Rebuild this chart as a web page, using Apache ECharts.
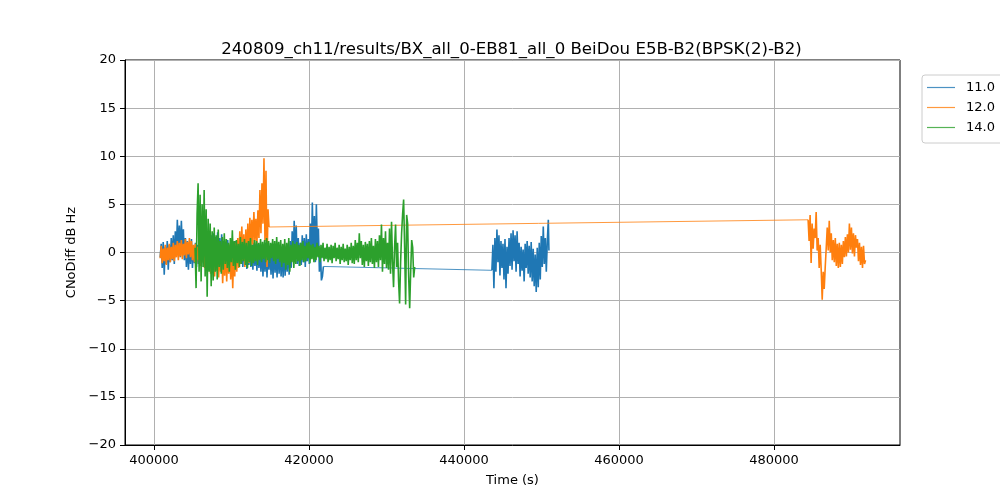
<!DOCTYPE html>
<html>
<head>
<meta charset="utf-8">
<script src="https://cdn.jsdelivr.net/npm/echarts@6/dist/echarts.min.js"></script>
<style>html,body{margin:0;padding:0;background:#fff}#chart{width:1000px;height:500px}</style>
</head>
<body>
<div id="chart"></div>
<script>
const titleText = '240809_ch11/results/BX_all_0-EB81_all_0 BeiDou E5B-B2(BPSK(2)-B2)';
const seriesNames = ['11.0', '12.0', '14.0'];
const xTicks = [400000, 420000, 440000, 460000, 480000];
const yTicks = [-20, -15, -10, -5, 0, 5, 10, 15, 20];

const blueSeg1 = [
[400800,-0.5],[400930,0.9],[401060,-1.6],[401190,1.1],[401320,-2.3],[401450,0.6],[401580,-1.2],[401710,1.2],[401840,-1.8],[401970,0.8],
[402100,-1.0],[402230,1.5],[402360,-0.8],[402490,1.8],[402620,-1.2],[402750,2.2],[402880,-0.3],[403010,3.4],[403140,0.2],[403270,2.8],
[403400,-0.5],[403530,3.3],[403660,0.4],[403790,2.4],[403920,-0.8],[404050,1.5],[404180,-1.5],[404310,1.2],[404440,-1.8],[404570,0.9],
[404700,-1.2],[404830,1.4],[404960,-1.6],[405090,0.7],[405220,-1.1],[405350,1.0],[405480,-1.5],[405610,0.8],[405740,-1.2],[405870,1.1],
[406000,-1.4],[406130,0.6],[406260,-1.0],[406390,1.2],[406520,-1.5],[406650,0.9],[406780,-1.3],[406910,1.0],[407040,-1.1],[407170,0.7],
[407300,-1.4],[407430,1.8],[407560,-0.9],[407690,2.0],[407820,-1.2],[407950,1.6],[408080,-0.7],[408210,2.1],[408340,-1.0],[408470,1.5],
[408600,-1.2],[408730,1.9],[408860,-0.8],[408990,1.2],[409120,-1.4],[409250,1.0],[409380,-1.1],[409510,1.3],[409640,-1.5],[409770,0.8],
[409900,-1.0],[410030,1.1],[410160,-1.3],[410290,0.9],[410420,-1.6],[410550,1.2],[410680,-1.0],[410810,0.7],[410940,-1.4],[411070,1.0],
[411200,-1.2],[411330,1.3],[411460,-1.5],[411590,0.8],[411720,-1.1],[411850,1.0],[411980,-1.7],[412110,0.6],[412240,-1.3],[412370,0.9],
[412500,-1.5],[412630,0.8],[412760,-1.8],[412890,1.0],[413020,-1.4],[413150,0.5],[413280,-1.9],[413410,0.9],[413540,-1.6],[413670,0.4],
[413800,-2.0],[413930,0.7],[414060,-2.5],[414190,0.3],[414320,-2.0],[414450,0.8],[414580,-2.6],[414710,0.2],[414840,-1.8],[414970,0.6],
[415100,-2.3],[415230,0.5],[415360,-2.7],[415490,0.8],[415620,-2.1],[415750,0.4],[415880,-2.6],[416010,0.9],[416140,-2.2],[416270,0.3],
[416400,-2.5],[416530,0.6],[416660,-2.6],[416790,0.8],[416920,-2.4],[417050,0.5],[417180,-2.0],[417310,0.9],[417440,-2.3],[417570,1.2],
[417700,-1.6],[417830,2.2],[417960,-0.8],[418090,3.3],[418220,-0.5],[418350,2.8],[418480,-1.2],[418610,1.5],[418740,-1.4],[418870,1.0],
[419000,-1.3],[419130,1.8],[419260,-1.0],[419390,1.5],[419520,-1.5],[419650,1.9],[419780,-0.9],[419910,1.4],[420040,-1.2],[420170,3.0],
[420300,-0.6],[420430,5.2],[420560,-0.2],[420690,3.8],[420820,-1.0],[420950,5.0],[421080,0.5],[421210,2.5],[421340,-2.0],[421470,0.4],
[421600,-2.9],[421730,-2.5],[421860,-1.45]
];
const blueSeg2 = [
[443600,-1.85],[443730,0.8],[443860,-3.7],[443990,1.5],[444120,-2.0],[444250,2.4],[444380,-1.0],[444510,1.8],[444640,-2.4],[444770,1.2],[444900,-1.6],
[445030,0.9],[445160,-2.8],[445290,1.4],[445420,-3.7],[445550,0.6],[445680,-2.2],[445810,1.5],[445940,-1.4],[446070,2.0],[446200,-1.8],
[446330,2.3],[446460,-0.9],[446590,1.8],[446720,-2.0],[446850,2.2],[446980,-1.2],[447110,1.0],[447240,-2.5],[447370,0.6],[447500,-1.9],
[447630,0.3],[447760,-3.0],[447890,0.9],[448020,-1.6],[448150,1.2],[448280,-2.2],[448410,0.7],[448540,-2.6],[448670,1.1],[448800,-3.0],
[448930,0.4],[449060,-3.5],[449190,-0.2],[449320,-4.1],[449450,0.5],[449580,-3.6],[449710,1.0],[449840,-2.8],[449970,1.7],[450100,-1.5],
[450230,2.7],[450360,-1.2],[450490,1.5],[450620,-2.0],[450750,1.2],[450880,3.4],[450960,0.2]
];
const orangeSeg1 = [
[400800,-0.6],[400930,0.7],[401060,-1.1],[401190,0.4],[401320,-0.9],[401450,0.8],[401580,-1.3],[401710,0.5],[401840,-0.8],[401970,0.9],
[402100,-1.0],[402230,0.6],[402360,-0.7],[402490,1.0],[402620,-0.9],[402750,0.8],[402880,-0.5],[403010,1.2],[403140,-0.8],[403270,1.0],
[403400,-0.4],[403530,1.3],[403660,-0.7],[403790,0.9],[403920,-0.3],[404050,1.4],[404180,-0.6],[404310,1.1],[404440,-0.2],[404570,1.5],
[404700,-0.5],[404830,1.2],[404960,-0.8],[405090,0.8],[405220,-1.0],[405350,0.9],[405480,-1.2],[405610,0.6],[405740,-0.8],[405870,1.0],
[406000,-1.4],[406130,0.5],[406260,-1.0],[406390,0.7],[406520,-1.6],[406650,0.3],[406780,-1.2],[406910,0.8],[407040,-1.8],[407170,0.4],
[407300,-2.2],[407430,0.2],[407560,-1.6],[407690,0.5],[407820,-2.5],[407950,-0.3],[408080,-1.9],[408210,0.4],[408340,-2.6],[408470,0.1],
[408600,-2.0],[408730,0.6],[408860,-3.2],[408990,-0.2],[409120,-2.4],[409250,0.5],[409380,-3.0],[409510,0.3],[409640,-2.2],[409770,0.8],
[409900,-2.8],[410030,0.4],[410160,-3.7],[410290,0.2],[410420,-2.5],[410550,1.0],[410680,-2.0],[410810,1.5],[410940,-1.6],[411070,2.2],
[411200,-1.2],[411330,2.7],[411460,-0.8],[411590,1.9],[411720,-1.5],[411850,2.4],[411980,-0.6],[412110,3.0],[412240,-1.1],[412370,3.6],
[412500,0.5],[412630,3.4],[412760,0.8],[412890,4.2],[413020,1.2],[413150,3.5],[413280,0.9],[413410,4.4],[413540,1.5],[413670,6.5],
[413800,2.0],[413930,7.2],[414060,3.0],[414190,9.8],[414320,1.2],[414450,8.5],[414580,-1.5],[414710,4.5],[414840,2.65]
];
const orangeSeg2 = [
[484400,3.4],[484530,1.2],[484660,3.9],[484790,-1.1],[484920,3.0],[485050,0.4],[485180,2.5],[485310,1.5],[485440,4.2],[485570,0.2],[485700,1.5],
[485830,-1.6],[485960,0.8],[486090,-1.8],[486220,-4.9],[486350,-2.0],[486480,-3.8],[486610,-1.5],[486740,0.5],[486870,2.6],[487000,0.2],
[487130,3.3],[487260,0.0],[487390,2.0],[487520,-0.8],[487650,1.3],[487780,-1.0],[487910,1.5],[488040,-1.4],[488170,0.9],[488300,-1.6],
[488430,1.0],[488560,-1.5],[488690,0.8],[488820,-1.2],[488950,1.2],[489080,-0.5],[489210,1.6],[489340,-0.4],[489470,1.9],[489600,0.0],
[489730,3.0],[489860,0.3],[489990,2.6],[490120,-0.1],[490250,2.0],[490380,-0.4],[490510,1.8],[490640,0.5],[490770,1.4],[490900,-0.9],
[491030,1.0],[491160,-1.3],[491290,0.6],[491420,-1.6],[491550,0.7],[491680,-1.2],[491810,-0.8]
];
const greenSeg = [
[405300,0.5],[405430,-3.7],[405560,4.0],[405690,7.2],[405820,-2.0],[405950,6.0],[406080,-3.0],[406210,5.0],[406340,-1.5],[406470,6.5],
[406600,-2.5],[406730,4.5],[406860,-4.6],[406990,3.5],[407120,-2.0],[407250,3.0],[407380,-3.5],[407510,2.2],[407640,-2.9],[407770,2.6],
[407900,-2.0],[408030,1.8],[408160,-2.8],[408290,2.4],[408420,-1.5],[408550,1.2],[408680,-2.2],[408810,1.6],[408940,-1.8],[409070,2.0],
[409200,-1.2],[409330,1.4],[409460,-1.6],[409590,1.0],[409720,-2.0],[409850,1.5],[409980,-1.0],[410110,2.3],[410240,-1.4],[410370,1.2],
[410500,-1.8],[410630,1.3],[410760,-1.1],[410890,0.9],[411020,-1.5],[411150,1.6],[411280,-1.2],[411410,1.1],[411540,-0.9],[411670,1.4],
[411800,-1.3],[411930,1.0],[412060,-1.6],[412190,1.2],[412320,-1.0],[412450,1.5],[412580,-1.4],[412710,0.8],[412840,-1.1],[412970,1.3],
[413100,-0.9],[413230,1.2],[413360,-1.3],[413490,1.0],[413620,-0.8],[413750,1.4],[413880,-1.0],[414010,1.1],[414140,-0.7],[414270,1.3],
[414400,-1.0],[414530,1.5],[414660,-0.8],[414790,1.2],[414920,-1.1],[415050,1.0],[415180,-0.6],[415310,1.4],[415440,-0.9],[415570,1.2],
[415700,-1.2],[415830,1.6],[415960,-0.7],[416090,1.1],[416220,-1.0],[416350,1.3],[416480,-1.5],[416610,0.9],[416740,-1.1],[416870,1.4],
[417000,-1.8],[417130,1.0],[417260,-1.3],[417390,1.5],[417520,-2.0],[417650,0.8],[417780,-1.0],[417910,1.2],[418040,-1.6],[418170,0.9],
[418300,-1.2],[418430,1.1],[418560,-0.9],[418690,0.8],[418820,-1.4],[418950,1.0],[419080,-0.8],[419210,1.2],[419340,-1.0],[419470,0.7],
[419600,-0.9],[419730,1.0],[419860,-0.6],[419990,1.1],[420120,-1.1],[420250,0.8],[420380,-0.7],[420510,0.9],[420640,-1.0],[420770,0.6],
[420900,-0.8],[421030,1.0],[421160,-0.5],[421290,0.7],[421420,-1.0],[421550,0.8],[421680,-0.6],[421810,1.0],[421940,-0.9],[422070,0.5],
[422200,-0.7],[422330,0.9],[422460,-1.0],[422590,0.6],[422720,-0.8],[422850,0.8],[422980,-1.1],[423110,0.7],[423240,-0.6],[423370,1.0],
[423500,-0.9],[423630,0.5],[423760,-0.7],[423890,0.8],[424020,-1.2],[424150,0.6],[424280,-0.8],[424410,0.9],[424540,-1.0],[424670,0.4],
[424800,-0.9],[424930,0.8],[425060,-1.3],[425190,0.6],[425320,-0.8],[425450,1.0],[425580,-1.1],[425710,0.7],[425840,-1.2],[425970,1.3],
[426100,-0.8],[426230,1.0],[426360,-1.0],[426490,2.0],[426620,-0.6],[426750,1.2],[426880,-1.3],[427010,0.8],[427140,-1.5],[427270,1.1],
[427400,-0.9],[427530,0.9],[427660,-1.4],[427790,1.2],[427920,-1.0],[428050,1.5],[428180,-1.2],[428310,0.7],[428440,-1.6],[428570,1.4],
[428700,-1.0],[428830,1.2],[428960,-1.5],[429090,1.8],[429220,-0.8],[429350,2.9],[429480,-2.0],[429610,1.5],[429740,-1.2],[429870,2.2],
[430000,-1.6],[430130,1.0],[430260,-1.8],[430390,2.5],[430520,-2.2],[430650,3.2],[430780,-1.0],[430910,-3.6],[431040,0.5],[431170,2.9],
[431300,-1.5],[431430,1.0],[431560,-3.0],[431690,-5.3],[431820,-1.0],[431950,2.0],[432080,4.0],[432210,5.5],[432340,0.5],[432470,-5.4],
[432600,3.9],[432730,3.0],[432860,-2.5],[432990,-5.8],[433120,-2.0],[433250,1.3],[433380,0.5],[433510,-2.6],[433640,-1.5]
];

const colors = ['#1f77b4', '#ff7f0e', '#2ca02c'];
const blueConn = [blueSeg1[blueSeg1.length - 1], blueSeg2[0]];
const orangeConn = [orangeSeg1[orangeSeg1.length - 1], orangeSeg2[0]];

const font = 'DejaVu Sans';
const chart = echarts.init(document.getElementById('chart'), null, {renderer: 'canvas'});
const mkSeries = (name, data, color, width) => ({
  name, type: 'line', data, showSymbol: false, symbol: 'none',
  lineStyle: {color, width}, itemStyle: {color}, animation: false, silent: true
});
chart.setOption({
  animation: false,
  backgroundColor: '#ffffff',
  title: {
    text: titleText, left: 506.5, top: 36, textAlign: 'center',
    textStyle: {fontFamily: font, fontSize: 16.6, fontWeight: 'normal', color: '#000'}
  },
  legend: {
    orient: 'vertical', left: 922, top: 75,
    padding: [6, 40, 9, 5], itemGap: 7, itemWidth: 28, itemHeight: 1.2, icon: 'rect',
    borderColor: '#cccccc', borderWidth: 1, borderRadius: 3, backgroundColor: '#fff',
    textStyle: {fontFamily: font, fontSize: 13, color: '#000', padding: [0, 0, 0, 6]},
    data: seriesNames.map((n, i) => ({name: n, icon: 'rect', itemStyle: {color: colors[i], opacity: 0.8}}))
  },
  grid: {left: 125, right: 100, top: 60, bottom: 55, show: true, borderColor: '#000', borderWidth: 1, containLabel: false},
  xAxis: {
    type: 'value', min: 396258, max: 496258,
    name: 'Time (s)', nameLocation: 'middle', nameGap: 29,
    nameTextStyle: {fontFamily: font, fontSize: 13, color: '#000'},
    axisLine: {show: true, onZero: false, lineStyle: {color: '#000', width: 1}},
    axisTick: {show: true, inside: false, length: 5, customValues: xTicks, lineStyle: {color: '#000'}},
    axisLabel: {customValues: xTicks, margin: 9, fontFamily: font, fontSize: 13, color: '#000', formatter: v => String(v)},
    splitLine: {show: true, lineStyle: {color: '#b0b0b0', width: 1}}
  },
  yAxis: {
    type: 'value', min: -20, max: 20, interval: 5,
    name: 'CNoDiff dB Hz', nameLocation: 'middle', nameGap: 46, nameRotate: 90,
    nameTextStyle: {fontFamily: font, fontSize: 13, color: '#000'},
    axisLine: {show: true, onZero: false, lineStyle: {color: '#000', width: 1}},
    axisTick: {show: true, inside: false, length: 5, lineStyle: {color: '#000'}},
    axisLabel: {margin: 9, fontFamily: font, fontSize: 13, color: '#000', formatter: v => String(v).replace('-', '\u2212')},
    splitLine: {show: true, lineStyle: {color: '#b0b0b0', width: 1}}
  },
  series: [
    mkSeries(seriesNames[0], blueSeg1, colors[0], 1.6),
    mkSeries(seriesNames[0], blueConn, colors[0], 0.8),
    mkSeries(seriesNames[0], blueSeg2, colors[0], 1.6),
    mkSeries(seriesNames[1], orangeSeg1, colors[1], 1.6),
    mkSeries(seriesNames[1], orangeConn, colors[1], 0.8),
    mkSeries(seriesNames[1], orangeSeg2, colors[1], 1.6),
    mkSeries(seriesNames[2], greenSeg, colors[2], 1.6)
  ]
});
</script>
</body>
</html>
